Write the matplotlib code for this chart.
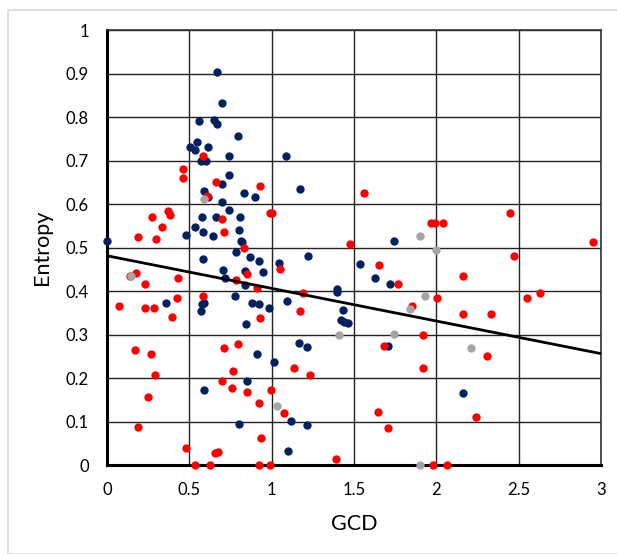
import matplotlib
matplotlib.use("Agg")
import matplotlib.pyplot as plt
from matplotlib.patches import Rectangle

navy_x = [0.000, 0.668, 0.697, 0.558, 0.651, 0.668, 0.796, 0.548, 0.507, 0.536, 0.615, 0.738,
          1.087, 0.570, 0.601, 0.738, 0.700, 1.171, 0.834, 0.901, 0.589, 0.615, 0.700, 0.738,
          0.579, 0.659, 0.805, 0.536, 0.803, 0.584, 0.478, 0.644, 0.813, 0.820, 1.740, 0.784,
          0.870, 1.221, 0.584, 0.923, 1.043, 1.538, 0.704, 0.841, 0.947, 0.714, 1.630, 0.839,
          1.721, 1.397, 1.399, 0.358, 0.779, 0.589, 0.579, 0.882, 0.923, 0.981, 1.096, 0.570,
          1.433, 1.423, 1.438, 1.464, 0.844, 1.163, 1.214, 1.704, 0.909, 1.017, 0.851, 0.589,
          2.163, 1.118, 0.803, 1.214, 1.099]
navy_y = [0.516, 0.903, 0.832, 0.791, 0.794, 0.783, 0.756, 0.743, 0.730, 0.725, 0.730, 0.710,
          0.710, 0.699, 0.699, 0.667, 0.646, 0.634, 0.625, 0.615, 0.630, 0.617, 0.604, 0.587,
          0.571, 0.571, 0.571, 0.547, 0.540, 0.536, 0.529, 0.526, 0.516, 0.513, 0.516, 0.489,
          0.478, 0.481, 0.473, 0.470, 0.464, 0.463, 0.449, 0.447, 0.443, 0.431, 0.430, 0.414,
          0.415, 0.404, 0.397, 0.373, 0.389, 0.373, 0.370, 0.373, 0.370, 0.362, 0.376, 0.355,
          0.357, 0.333, 0.329, 0.326, 0.324, 0.281, 0.272, 0.273, 0.255, 0.236, 0.192, 0.172,
          0.165, 0.101, 0.095, 0.092, 0.032]

red_x = [0.582, 0.464, 0.464, 0.659, 0.928, 1.562, 0.608, 0.370, 0.382, 0.274, 0.700, 0.990,
         1.000, 2.450, 1.969, 1.993, 2.043, 0.334, 0.709, 0.190, 0.298, 1.476, 2.954, 0.834,
         2.471, 1.651, 1.050, 0.175, 0.137, 0.849, 0.433, 2.163, 0.781, 0.231, 1.769, 0.911,
         1.192, 2.627, 0.584, 2.553, 2.007, 0.423, 0.075, 0.233, 0.284, 1.853, 1.175, 2.163,
         2.334, 0.397, 0.930, 1.921, 1.680, 0.173, 0.712, 0.798, 0.269, 2.308, 1.137, 1.921,
         0.767, 0.291, 1.231, 0.697, 0.757, 0.998, 0.849, 0.252, 0.923, 1.647, 1.075, 2.240,
         0.190, 1.707, 0.933, 0.481, 0.654, 0.673, 1.392, 0.536, 0.623, 0.923, 0.988, 1.978,
         2.063]
red_y = [0.711, 0.680, 0.659, 0.651, 0.642, 0.625, 0.618, 0.583, 0.574, 0.571, 0.566, 0.580,
         0.580, 0.580, 0.557, 0.557, 0.557, 0.547, 0.536, 0.523, 0.519, 0.507, 0.513, 0.498,
         0.481, 0.460, 0.450, 0.441, 0.435, 0.438, 0.430, 0.434, 0.425, 0.415, 0.415, 0.408,
         0.395, 0.395, 0.389, 0.385, 0.384, 0.385, 0.365, 0.362, 0.362, 0.366, 0.355, 0.346,
         0.348, 0.341, 0.338, 0.300, 0.274, 0.265, 0.269, 0.278, 0.255, 0.250, 0.222, 0.222,
         0.216, 0.206, 0.206, 0.192, 0.176, 0.173, 0.168, 0.156, 0.143, 0.122, 0.119, 0.110,
         0.088, 0.084, 0.062, 0.040, 0.028, 0.030, 0.014, 0.000, 0.000, 0.000, 0.000, 0.000,
         0.000]

grey_x = [0.591, 0.147, 1.901, 1.998, 1.930, 1.839, 1.411, 1.740, 2.212, 1.034, 1.901]
grey_y = [0.612, 0.434, 0.527, 0.495, 0.388, 0.358, 0.299, 0.302, 0.269, 0.136, 0.000]

trend_x = [0.0, 3.0]
trend_y = [0.481, 0.256]

x_ticks = [0, 0.5, 1, 1.5, 2, 2.5, 3]
x_tick_labels = ["0", "0.5", "1", "1.5", "2", "2.5", "3"]
y_ticks = [0, 0.1, 0.2, 0.3, 0.4, 0.5, 0.6, 0.7, 0.8, 0.9, 1]
y_tick_labels = ["0", "0.1", "0.2", "0.3", "0.4", "0.5", "0.6", "0.7", "0.8", "0.9", "1"]

plt.rcParams['font.family'] = ['Lato', 'DejaVu Sans']

fig = plt.figure(figsize=(6.17, 5.54), dpi=100)
fig.patches.append(Rectangle((8/617, 0), 1, 1 - 10/554, transform=fig.transFigure,
                             fill=False, edgecolor='#d9d9d9', linewidth=1.2))
ax = fig.add_axes([107/617, 1 - 465/554, (601 - 107)/617, (465 - 30)/554])

ax.set_xlim(0, 3)
ax.set_ylim(0, 1)
ax.set_xticks(x_ticks)
ax.set_xticklabels(x_tick_labels)
ax.set_yticks(y_ticks)
ax.set_yticklabels(y_tick_labels)
ax.grid(True, color='#222222', linewidth=1.0)
ax.set_axisbelow(True)
ax.tick_params(length=0, labelsize=12, colors='black')
ax.tick_params(axis='y', pad=13)
ax.tick_params(axis='x', pad=12)

for s in ['left', 'bottom']:
    ax.spines[s].set_linewidth(2.2)
    ax.spines[s].set_color('black')
for s in ['top', 'right']:
    ax.spines[s].set_linewidth(1.2)
    ax.spines[s].set_color('#333333')

ms = 36
ax.scatter(navy_x, navy_y, s=ms, color='#002060', linewidths=0, zorder=3, clip_on=False)
ax.scatter(red_x, red_y, s=ms, color='#FF0000', linewidths=0, zorder=4, clip_on=False)
ax.scatter(grey_x, grey_y, s=ms, color='#A5A5A5', linewidths=0, zorder=5, clip_on=False)
ax.plot(trend_x, trend_y, color='black', linewidth=2.0, zorder=6)

ax.set_xlabel('GCD', fontsize=15.5, labelpad=12)
ax.set_ylabel('Entropy', fontsize=15.5, labelpad=10)

fig.savefig('out.png', dpi=100)
